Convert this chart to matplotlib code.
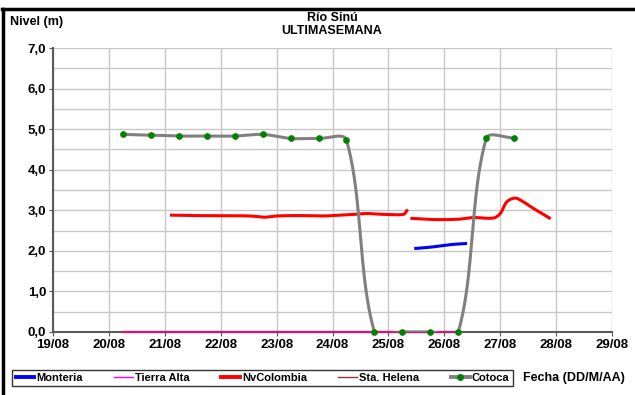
import numpy as np
import matplotlib
matplotlib.use("Agg")
import matplotlib.pyplot as plt
from matplotlib.lines import Line2D

plt.rcParams['font.family'] = ['Liberation Sans', 'DejaVu Sans']

# ---------------- data (x = day of August) ----------------
tick_days = [19, 20, 21, 22, 23, 24, 25, 26, 27, 28, 29]
tick_labels = ["19/08", "20/08", "21/08", "22/08", "23/08", "24/08",
               "25/08", "26/08", "27/08", "28/08", "29/08"]

cotoca_t = [20.25, 20.75, 21.25, 21.75, 22.25, 22.75, 23.25, 23.75,
            24.25, 24.75, 25.25, 25.75, 26.25, 26.75, 27.25]
cotoca_v = [4.87, 4.85, 4.83, 4.83, 4.83, 4.87, 4.77, 4.77,
            4.73, 0.0, 0.0, 0.0, 0.0, 4.77, 4.78]

nvcol1_t = [21.12, 21.5, 22.02, 22.52, 22.79, 23.0, 23.42, 23.84, 24.01,
            24.3, 24.61, 24.9, 25.27, 25.33]
nvcol1_v = [2.88, 2.87, 2.865, 2.86, 2.83, 2.86, 2.87, 2.86, 2.87,
            2.89, 2.92, 2.90, 2.90, 2.99]
nvcol2_t = [25.42, 25.69, 25.86, 26.25, 26.52, 26.88, 27.0, 27.12, 27.27,
            27.41, 27.59, 27.71, 27.88]
nvcol2_v = [2.80, 2.78, 2.77, 2.78, 2.82, 2.81, 2.92, 3.21, 3.30,
            3.21, 3.05, 2.95, 2.81]

monteria_t = [25.49, 25.74, 25.98, 26.16, 26.38]
monteria_v = [2.06, 2.09, 2.13, 2.16, 2.18]

tierra_t = [20.25, 26.22]
tierra_v = [0.0, 0.0]
helena_t = [20.25, 26.22]
helena_v = [0.0, 0.0]

SX, SY = 55.9, 40.6  # approx display px per x / y unit


def smooth(x, y, n=30):
    """Excel-like smoothed line: cubic Bezier, control arms scaled by chord lengths."""
    P = np.column_stack([np.asarray(x, float) * SX, np.asarray(y, float) * SY])
    m = len(P)
    d = np.linalg.norm(np.diff(P, axis=0), axis=1)
    out = []
    for i in range(m - 1):
        p0, p1 = P[i], P[i + 1]
        if i == 0:
            c1 = p0 + (p1 - p0) / 3
        else:
            T = P[i + 1] - P[i - 1]
            c1 = p0 + T * d[i] / (3 * (d[i - 1] + d[i]))
        if i + 1 == m - 1:
            c2 = p1 - (p1 - p0) / 3
        else:
            T = P[i + 2] - P[i]
            c2 = p1 - T * d[i] / (3 * (d[i] + d[i + 1]))
        t = np.linspace(0, 1, n, endpoint=(i == m - 2))[:, None]
        out.append((1 - t)**3 * p0 + 3 * (1 - t)**2 * t * c1
                   + 3 * (1 - t) * t**2 * c2 + t**3 * p1)
    Q = np.vstack(out)
    return Q[:, 0] / SX, Q[:, 1] / SY


fig = plt.figure(figsize=(6.35, 3.95), dpi=100)
ax = fig.add_axes([53 / 635, 1 - 332 / 395, (612 - 53) / 635, (332 - 48) / 395])

grid_c = "#c8c8c8"
ax.set_xlim(19, 29)
ax.set_ylim(0, 7)
ax.set_xticks(tick_days)
ax.set_xticklabels(tick_labels)
ax.set_yticks(np.arange(0, 7.01, 1.0))
ax.set_yticklabels([f"{v:.1f}".replace(".", ",") for v in np.arange(0, 7.01, 1.0)])
ax.set_yticks(np.arange(0, 7.01, 0.5), minor=True)
ax.grid(True, which="major", color=grid_c, lw=1.0)
ax.grid(True, which="minor", axis="y", color=grid_c, lw=1.0)
ax.tick_params(axis="y", which="minor", length=0)
ax.tick_params(axis="both", which="major", length=3, color="#555555",
               labelsize=9.5, pad=2)
for lab in ax.get_xticklabels() + ax.get_yticklabels():
    lab.set_fontweight("bold")
for s in ["top", "right"]:
    ax.spines[s].set_visible(False)
for s in ["left", "bottom"]:
    ax.spines[s].set_color("#5a5a5a")
    ax.spines[s].set_linewidth(1.5)
    ax.spines[s].set_zorder(2.5)

# series
ax.plot(tierra_t, tierra_v, color="#ff00ff", lw=1.6, zorder=3, clip_on=False)
ax.plot(helena_t, helena_v, color="#993333", lw=1.6, alpha=0.65, zorder=3.1, clip_on=False)
ax.plot(*smooth(nvcol1_t, nvcol1_v, 10), color="#ff0000", lw=2.2, zorder=4)
ax.plot(*smooth(nvcol2_t, nvcol2_v, 10), color="#ff0000", lw=2.2, zorder=4)
ax.plot(*smooth(monteria_t, monteria_v, 10), color="#0000ff", lw=2.2, zorder=4)
cx, cy = smooth(cotoca_t, cotoca_v, 40)
ax.plot(cx, cy, color="#808080", lw=2.2, zorder=5)
ax.plot(cotoca_t, cotoca_v, ls="none", marker="o", ms=3.8, color="#008000",
        zorder=6, clip_on=False)

# titles
fig.text(332 / 635, 1 - 18 / 395, "Río Sinú", ha="center", va="center",
         fontsize=9, fontweight="bold")
fig.text(332 / 635, 1 - 31 / 395, "ULTIMASEMANA", ha="center", va="center",
         fontsize=9, fontweight="bold")
fig.text(10 / 635, 1 - 22 / 395, "Nivel (m)", ha="left", va="center",
         fontsize=9, fontweight="bold")
fig.text(523 / 635, 1 - 378 / 395, "Fecha (DD/M/AA)", ha="left", va="center",
         fontsize=9, fontweight="bold")

# legend
handles = [
    Line2D([], [], color="#0000ff", lw=2.8),
    Line2D([], [], color="#ff00ff", lw=1.0),
    Line2D([], [], color="#ff0000", lw=2.8),
    Line2D([], [], color="#993333", lw=1.0),
    Line2D([], [], color="#808080", lw=2.8, marker="o", ms=4,
           markerfacecolor="#008000", markeredgecolor="#008000"),
]
labels = ["Monteria", "Tierra Alta", "NvColombia", "Sta. Helena", "Cotoca"]
leg = fig.legend(handles, labels, loc="center", ncol=5,
                 bbox_to_anchor=(262.5 / 635, 1 - 378 / 395),
                 frameon=True, fancybox=False, edgecolor="black",
                 handlelength=1.7, handletextpad=0.2, columnspacing=2.8,
                 borderpad=0.3, borderaxespad=0, prop={"size": 8, "weight": "bold"})
leg.get_frame().set_linewidth(1.0)

# outer border (left and top)
fig.add_artist(Line2D([3 / 635, 3 / 635], [0, 1 - 9 / 395], color="black",
                      lw=2.5, transform=fig.transFigure))
fig.add_artist(Line2D([2 / 635, 1], [1 - 9 / 395, 1 - 9 / 395], color="black",
                      lw=2.5, transform=fig.transFigure))

fig.savefig("out.png", dpi=100)
